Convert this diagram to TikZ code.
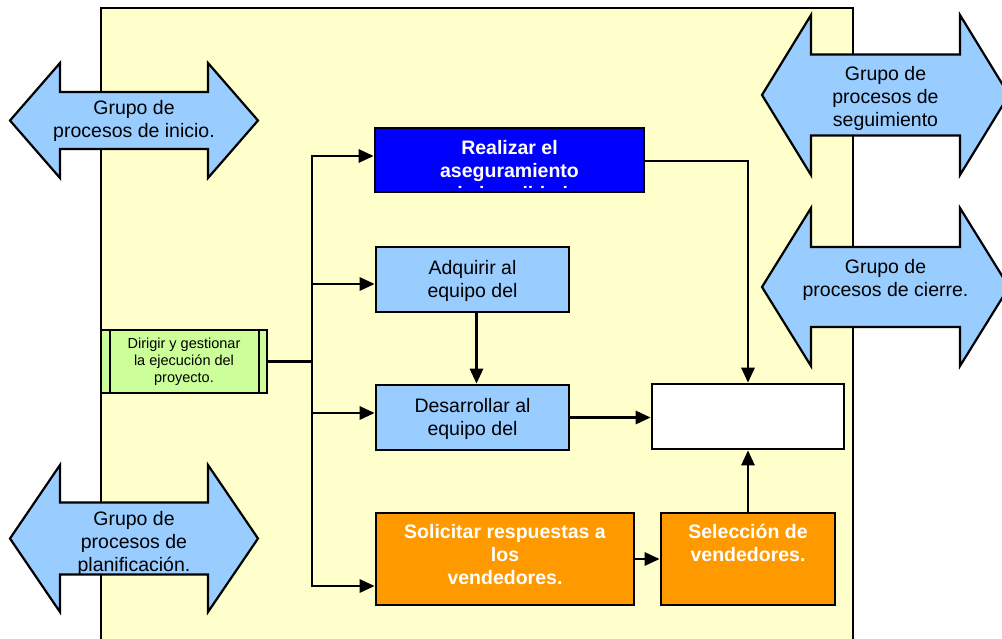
\documentclass[tikz,border=0pt]{standalone}
\usepackage{fontspec}
\setmainfont{Liberation Sans}
\usetikzlibrary{arrows.meta}

\definecolor{panelyellow}{HTML}{FFFFCC}
\definecolor{skyblue}{HTML}{99CCFF}
\definecolor{pureblue}{HTML}{0000FF}
\definecolor{procorange}{HTML}{FF9900}
\definecolor{palegreen}{HTML}{CCFF99}

\newcommand\grpfont{\fontsize{19.5pt}{23pt}\selectfont}
\newcommand\boxfont{\fontsize{19.5pt}{23pt}\selectfont}
\newcommand\leadfont{\fontsize{14.5pt}{17pt}\selectfont}

% outline of a horizontal double-headed block arrow:
% #1 left tip x, #2 right tip x, #3 axis y, #4 half head width,
% #5 half shaft width, #6 head length
\newcommand\arrowoutline[6]{(#1,#3) -- ({#1+#6},{#3-#4}) -- ({#1+#6},{#3-#5})
  -- ({#2-#6},{#3-#5}) -- ({#2-#6},{#3-#4}) -- (#2,#3) -- ({#2-#6},{#3+#4})
  -- ({#2-#6},{#3+#5}) -- ({#1+#6},{#3+#5}) -- ({#1+#6},{#3+#4}) -- cycle}

% filled block arrow with its label clipped to the shape
% #7 label name, #8 label y, #9 label text
\newcommand\grouparrow[9]{%
  \fill[skyblue] \arrowoutline{#1}{#2}{#3}{#4}{#5}{#6};
  \begin{scope}
    \clip \arrowoutline{#1}{#2}{#3}{#4}{#5}{#6};
    \node[grouptext] (#7) at ({(#1+#2)/2},#8) {#9};
  \end{scope}
  \draw[line width=2.2pt, line join=miter] \arrowoutline{#1}{#2}{#3}{#4}{#5}{#6};
}

\begin{document}
\begin{tikzpicture}[x=1pt, y=-1pt,
  grouptext/.style={align=center, inner sep=0pt, font=\grpfont},
  procbox/.style={draw=black, line width=2.6pt, inner sep=0pt},
  plaintext/.style={align=center, inner sep=0pt, font=\boxfont},
  whitetext/.style={align=center, inner sep=0pt, font=\boxfont\bfseries, text=white},
  leadtext/.style={align=center, inner sep=0pt, font=\leadfont},
  conn/.style={line width=2.8pt, line join=miter},
  flow/.style={conn, -{Triangle[length=15pt, width=13pt]}}]

\useasboundingbox (0,0) rectangle (1002,638);
\fill[white] (0,0) rectangle (1002,638);

% process-group panel (runs past the lower edge)
\node[draw=black, line width=1.6pt, fill=panelyellow, inner sep=0pt,
      minimum width=752pt, minimum height=650pt] (panel) at (477,333) {};

% neighbouring process groups
\grouparrow{10}{258}{120.5}{57.5}{28.5}{50}{inicio}{121}{Grupo de\\procesos de inicio.}
\grouparrow{10}{258}{538.5}{73.5}{36}{50}{planif}{543.5}{Grupo de\\procesos de\\planificación.}
\grouparrow{762}{1009}{95}{80}{40.5}{49}{seguim}{98}{Grupo de\\procesos de\\seguimiento}
\grouparrow{762}{1009}{287}{79}{40}{49}{cierre}{279.5}{Grupo de\\procesos de cierre.}

% processes
\node[procbox, fill=pureblue, minimum width=269pt, minimum height=64pt] (qa) at (509.5,160) {};
\begin{scope}
  \clip (qa.north west) rectangle ([yshift=6pt]qa.south east);
  \node[whitetext] (qaT) at (509.5,171) {Realizar el\\aseguramiento\\de la calidad};
\end{scope}

\node[procbox, fill=skyblue, minimum width=193pt, minimum height=65pt] (adq) at (472.5,279.5) {};
\node[plaintext] (adqT) at (472.5,280.5) {Adquirir al\\equipo del};

\node[procbox, fill=skyblue, minimum width=193pt, minimum height=65pt] (dev) at (472.5,417.5) {};
\node[plaintext] (devT) at (472.5,418.5) {Desarrollar al\\equipo del};

\node[procbox, fill=procorange, minimum width=258pt, minimum height=92pt] (sol) at (505,559) {};
\node[whitetext] (solT) at (505,555) {Solicitar respuestas a\\los\\vendedores.};

\node[procbox, fill=procorange, minimum width=174pt, minimum height=92pt] (sel) at (748,559) {};
\node[whitetext] (selT) at (748,543) {Selección de\\vendedores.};

\node[procbox, fill=white, minimum width=192pt, minimum height=65pt] (out) at (748,416.5) {};

\node[procbox, line width=2.4pt, fill=palegreen, minimum width=166pt, minimum height=63pt] (lead) at (184,361.5) {};
\draw[line width=2.4pt] ([xshift=10pt]lead.north west) -- ([xshift=10pt]lead.south west);
\draw[line width=2.4pt] ([xshift=-9pt]lead.north east) -- ([xshift=-9pt]lead.south east);
\node[leadtext] (leadT) at (184,362) {Dirigir y gestionar\\la ejecución del\\proyecto.};

% distribution trunk
\coordinate (trunkTop) at (312,156);
\coordinate (trunkBot) at (312,586);
\coordinate (tapAdq) at (312,284);
\coordinate (tapDev) at (312,413);

\draw[conn] (lead.east) -- (lead.east -| trunkTop);
\draw[flow] (trunkBot) -- (trunkTop) -- (trunkTop -| qa.west);
\draw[flow] (trunkTop) -- (trunkBot) -- (trunkBot -| sol.west);
\draw[flow] (tapAdq) -- (tapAdq -| adq.west);
\draw[flow] (tapDev) -- (tapDev -| dev.west);

% links between processes
\draw[flow] ([yshift=-1pt]qa.east) -| (out.north);
\draw[flow] ([xshift=4pt]adq.south) -- ([xshift=4pt]dev.north);
\draw[flow] (dev.east) -- (dev.east -| out.west);
\draw[flow] (sol.east) -- (sel.west);
\draw[flow] (sel.north) -- (out.south);
\end{tikzpicture}
\end{document}
